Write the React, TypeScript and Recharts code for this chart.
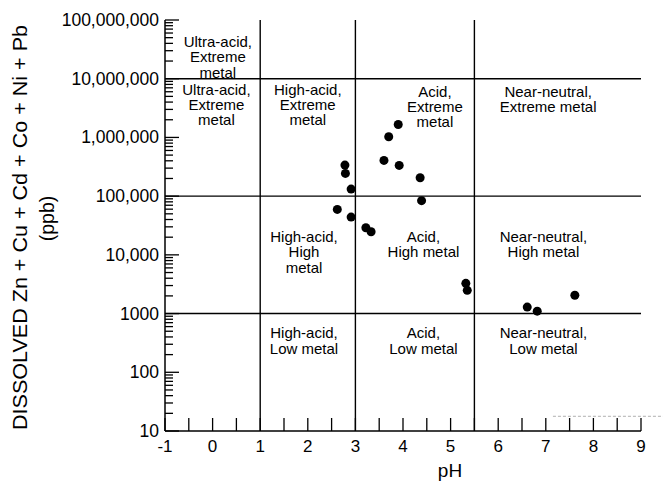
import React from 'react';
import { ScatterChart, Scatter, XAxis, YAxis, ReferenceLine } from 'recharts';

// Sample points: pH and dissolved metal (ppb)
const phValues = [2.78, 2.79, 2.91, 2.62, 2.91, 3.22, 3.33, 3.6, 3.92, 4.36, 4.39, 3.9, 3.7, 5.32, 5.35, 6.61, 6.82, 7.61];
const metalValues = [338000, 244000, 132000, 59500, 44000, 29000, 24800, 406000, 334000, 206000, 83700, 1664000, 1028000, 3270, 2490, 1290, 1100, 2050];

// Axis ticks
const xTicks = [-1, -0.5, 0, 0.5, 1, 1.5, 2, 2.5, 3, 3.5, 4, 4.5, 5, 5.5, 6, 6.5, 7, 7.5, 8, 8.5, 9];
const xTickLabels = ['-1', '0', '1', '2', '3', '4', '5', '6', '7', '8', '9'];
const xLabelValues = [-1, 0, 1, 2, 3, 4, 5, 6, 7, 8, 9];
const yMajorTicks = [10, 100, 1000, 10000, 100000, 1000000, 10000000, 100000000];
const yTickLabels = ['10', '100', '1000', '10,000', '100,000', '1,000,000', '10,000,000', '100,000,000'];
const yMinorMultipliers = [2, 3, 4, 5, 6, 7, 8, 9];

// Class boundaries
const phBoundaries = [1, 3, 5.5];
const metalBoundaries = [1000, 100000, 10000000];

// Region labels
const regionPh = [0.11, 0.08, 2.0, 4.67, 7.05, 1.92, 4.43, 6.95, 1.92, 4.43, 6.95];
const regionMetal = [42000000, 6500000, 6500000, 6000000, 6000000, 20000, 20000, 20000, 460, 460, 460];
const regionText = [
  ['Ultra-acid,', 'Extreme', 'metal'],
  ['Ultra-acid,', 'Extreme', 'metal'],
  ['High-acid,', 'Extreme', 'metal'],
  ['Acid,', 'Extreme', 'metal'],
  ['Near-neutral,', 'Extreme metal'],
  ['High-acid,', 'High', 'metal'],
  ['Acid,', 'High metal'],
  ['Near-neutral,', 'High metal'],
  ['High-acid,', 'Low metal'],
  ['Acid,', 'Low metal'],
  ['Near-neutral,', 'Low metal'],
];

const FONT = '"Liberation Sans", Arial, Helvetica, sans-serif';

const points = phValues.map((ph, i) => ({ ph, metal: metalValues[i] }));
const labels = regionPh.map((ph, i) => ({ ph, metal: regionMetal[i], lines: regionText[i] }));
const yAllTicks: number[] = [];
yMajorTicks.forEach((d, i) => {
  yAllTicks.push(d);
  if (i < yMajorTicks.length - 1) yMinorMultipliers.forEach((m) => yAllTicks.push(d * m));
});
yAllTicks.sort((a, b) => a - b);

const LeftTick = (props: any) => {
  const { x, y, payload } = props;
  const idx = yMajorTicks.indexOf(payload.value);
  const major = idx >= 0;
  return (
    <g>
      <line x1={x} x2={x + (major ? 14 : 8)} y1={y} y2={y} stroke="#000" strokeWidth={1.3} />
      {major && (
        <text x={x - 6} y={y} textAnchor="end" dominantBaseline="central" fontFamily={FONT} fontSize={17.5} fill="#000">
          {yTickLabels[idx]}
        </text>
      )}
    </g>
  );
};

const RightTick = (props: any) => {
  const { x, y, payload } = props;
  const major = yMajorTicks.indexOf(payload.value) >= 0;
  return <line x1={x} x2={x - (major ? 13 : 7)} y1={y} y2={y} stroke="#000" strokeWidth={1.3} />;
};

const BottomTick = (props: any) => {
  const { x, y, payload } = props;
  const idx = xLabelValues.indexOf(payload.value);
  return (
    <g>
      <line x1={x} x2={x} y1={y} y2={y - 13} stroke="#000" strokeWidth={1.3} />
      {idx >= 0 && (
        <text x={x} y={y + 21} textAnchor="middle" fontFamily={FONT} fontSize={17} fill="#000">
          {xTickLabels[idx]}
        </text>
      )}
    </g>
  );
};

const TopTick = (props: any) => {
  const { x, y } = props;
  return <line x1={x} x2={x} y1={y} y2={y + 12} stroke="#000" strokeWidth={1.3} />;
};

const YTitle = (props: any) => {
  const vb = props.viewBox;
  const cy = vb.y + vb.height / 2 + 2;
  const x1 = vb.x + 20;
  const x2 = vb.x + 47;
  const cy2 = cy - 9;
  return (
    <g>
      <text
        x={x1}
        y={cy}
        transform={`rotate(-90 ${x1} ${cy})`}
        textAnchor="middle"
        dominantBaseline="central"
        fontFamily={FONT}
        fontSize={19.5}
        textLength={405}
        lengthAdjust="spacingAndGlyphs"
        fill="#000"
      >
        DISSOLVED Zn + Cu + Cd + Co + Ni + Pb
      </text>
      <text x={x2} y={cy2} transform={`rotate(-90 ${x2} ${cy2})`} textAnchor="middle" dominantBaseline="central" fontFamily={FONT} fontSize={19.5} fill="#000">
        (ppb)
      </text>
    </g>
  );
};

const XTitle = (props: any) => {
  const vb = props.viewBox;
  const cx = vb.x + vb.width / 2 + 47;
  return (
    <text x={cx} y={vb.y + 46} textAnchor="middle" fontFamily={FONT} fontSize={19} fill="#000">
      pH
    </text>
  );
};

const Dot = (props: any) => <circle cx={props.cx} cy={props.cy} r={4.5} fill="#000" />;

const RegionLabel = (props: any) => {
  const { cx, cy, payload } = props;
  const lines: string[] = payload.lines;
  return (
    <g>
      {lines.map((l, i) => (
        <text key={i} x={cx} y={cy + i * 15.3 + 5} textAnchor="middle" fontFamily={FONT} fontSize={15} fill="#000">
          {l}
        </text>
      ))}
    </g>
  );
};

export default function App() {
  const axisLine = { stroke: '#000', strokeWidth: 1.5 };
  return (
    <div style={{ position: 'absolute', left: 0, top: 0, width: 663, height: 482, background: '#fff' }}>
      <ScatterChart width={663} height={482} margin={{ top: 20, right: 22, bottom: 0, left: 0 }}>
        <XAxis
          xAxisId={0}
          type="number"
          dataKey="ph"
          domain={[-1, 9]}
          allowDataOverflow
          ticks={xTicks}
          interval={0}
          height={51}
          tickSize={0}
          tickMargin={0}
          tickLine={false}
          axisLine={axisLine}
          tick={<BottomTick />}
          label={<XTitle />}
        />
        <XAxis
          xAxisId="top"
          orientation="top"
          type="number"
          domain={[-1, 9]}
          allowDataOverflow
          ticks={xTicks}
          interval={0}
          height={0}
          tickSize={0}
          tickMargin={0}
          tickLine={false}
          axisLine={axisLine}
          tick={<TopTick />}
        />
        <YAxis
          yAxisId={0}
          type="number"
          dataKey="metal"
          scale="log"
          domain={[10, 100000000]}
          allowDataOverflow
          ticks={yAllTicks}
          interval={0}
          width={165}
          tickSize={0}
          tickMargin={0}
          tickLine={false}
          axisLine={axisLine}
          tick={<LeftTick />}
          label={<YTitle />}
        />
        <YAxis
          yAxisId="right"
          orientation="right"
          type="number"
          scale="log"
          domain={[10, 100000000]}
          allowDataOverflow
          ticks={yAllTicks}
          interval={0}
          width={0}
          tickSize={0}
          tickMargin={0}
          tickLine={false}
          axisLine={axisLine}
          tick={<RightTick />}
        />
        {phBoundaries.map((b) => (
          <ReferenceLine key={'x' + b} x={b} stroke="#000" strokeWidth={1.4} />
        ))}
        {metalBoundaries.map((b) => (
          <ReferenceLine key={'y' + b} y={b} stroke="#000" strokeWidth={1.4} />
        ))}
        <ReferenceLine
          segment={[{ x: 7.15, y: 17.8 }, { x: 9.47, y: 17.8 }]}
          ifOverflow="visible"
          stroke="#b0b0b0"
          strokeDasharray="3 2"
        />
        <Scatter data={labels} shape={<RegionLabel />} isAnimationActive={false} />
        <Scatter data={points} shape={<Dot />} isAnimationActive={false} />
      </ScatterChart>
    </div>
  );
}
